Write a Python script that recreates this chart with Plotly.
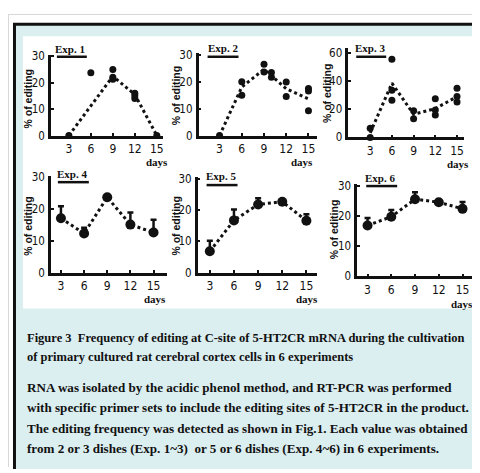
import plotly.graph_objects as go

# ---------------- data ----------------
days = [3, 6, 9, 12, 15]
day_ticks = [3, 6, 9, 12, 15]
day_tick_text = ["3", "6", "9", "12", "15"]

# Exp 1-3: individual dishes (scatter) + mean line
exp1_x = [3, 6, 9, 9, 9, 12, 12, 12, 15]
exp1_y = [0, 23.7, 25, 22, 21.3, 16, 15, 14, 0]
exp1_line_x = [3, 9, 12, 15]
exp1_line_y = [0, 22.4, 15.5, 0]

exp2_x = [3, 6, 6, 9, 9, 10, 10, 12, 12, 15, 15, 15]
exp2_y = [0, 20, 15, 26.5, 23.6, 23.4, 21.6, 19.9, 14.5, 17.5, 16.5, 9.2]
exp2_line_x = [3, 6, 9, 10, 12, 15]
exp2_line_y = [0, 18, 24.6, 22.2, 17.4, 13.6]

exp3_x = [3, 3, 6, 6, 6, 9, 9, 12, 12, 12, 15, 15, 15]
exp3_y = [6.5, 0, 55.5, 33.5, 26.5, 19, 13.2, 27.5, 19.5, 16, 35, 29, 25.2]
exp3_line_x = [3, 6, 9, 12, 15]
exp3_line_y = [3.3, 38.5, 16.5, 20.5, 29]

# Exp 4-6: mean + upper error (SD)
exp4_mean = [17.1, 12.3, 23.7, 15.1, 12.6]
exp4_err = [3.8, 1.8, 0.4, 3.8, 4.0]
exp5_mean = [6.8, 16.7, 21.8, 22.7, 16.6]
exp5_err = [3.4, 3.5, 2.0, 0.6, 2.1]
exp6_mean = [16.9, 19.8, 25.6, 24.6, 22.4]
exp6_err = [2.5, 2.2, 2.3, 0.4, 2.3]

exp_titles = ["Exp. 1", "Exp. 2", "Exp. 3", "Exp. 4", "Exp. 5", "Exp. 6"]
y_title = "% of editing"
x_unit = "days"
y_ticks_30 = [0, 10, 20, 30]
y_ticks_60 = [0, 20, 40, 60]

caption_title = [
    "Figure 3  Frequency of editing at C-site of 5-HT2CR mRNA during the cultivation",
    "of primary cultured rat cerebral cortex cells in 6 experiments",
]
caption_body = [
    "RNA was isolated by the acidic phenol method, and RT-PCR was performed",
    "with specific primer sets to include the editing sites of 5-HT2CR in the product.",
    "The editing frequency was detected as shown in Fig.1. Each value was obtained",
    "from 2 or 3 dishes (Exp. 1~3)  or 5 or 6 dishes (Exp. 4~6) in 6 experiments.",
]

# ---------------- layout helpers ----------------
# the page body has an 8px margin, so the figure occupies window px 8..480 / 8..473
OFF = 8
W, H = 480 - OFF, 473 - OFF
def PX(px):
    return (px - OFF) / W
def PY(py):
    return 1 - (py - OFF) / H

BLACK = "#111111"
CYAN = "#dbeef0"
NARROW = "Liberation Sans Narrow, Arial Narrow, DejaVu Sans Condensed, sans-serif"
SERIF = "Liberation Serif, Times New Roman, serif"
SANS = "Liberation Sans, Arial, sans-serif"

# pixel boxes (window coords): (left, right, top, bottom), x range, y range
panels = [
    dict(box=(51, 163, 50, 133), xr=[0.55, 15.8], yr=[0, 30.5], yt=y_ticks_30),
    dict(box=(199, 318, 48, 133), xr=[0.17, 16.2], yr=[0, 30.7], yt=y_ticks_30),
    dict(box=(349, 465, 43, 135), xr=[-0.03, 15.97], yr=[0, 63.5], yt=y_ticks_60),
    dict(box=(51, 167, 175, 274), xr=[1.7, 16.7], yr=[0, 30.3], yt=y_ticks_30),
    dict(box=(198, 318, 176, 274), xr=[1.48, 16.36], yr=[0, 30.5], yt=y_ticks_30),
    dict(box=(358, 473, 183, 278), xr=[1.7, 16.2], yr=[0, 30.6], yt=y_ticks_30),
]

fig = go.Figure()

line_style = dict(color=BLACK, width=3, dash="dot")

def add_dishes(i, xs, ys, lx, ly):
    ax = "" if i == 1 else str(i)
    fig.add_trace(go.Scatter(x=lx, y=ly, mode="lines", line=line_style,
                             xaxis="x" + ax, yaxis="y" + ax, cliponaxis=False,
                             showlegend=False, hoverinfo="skip"))
    fig.add_trace(go.Scatter(x=xs, y=ys, mode="markers",
                             marker=dict(color=BLACK, size=7),
                             xaxis="x" + ax, yaxis="y" + ax, cliponaxis=False,
                             showlegend=False))

def add_means(i, means, errs):
    ax = str(i)
    fig.add_trace(go.Scatter(x=days, y=means, mode="lines+markers", line=line_style,
                             marker=dict(color=BLACK, size=10),
                             error_y=dict(type="data", array=errs,
                                          arrayminus=[0] * len(errs),
                                          color=BLACK, thickness=2.5, width=3),
                             xaxis="x" + ax, yaxis="y" + ax, cliponaxis=False,
                             showlegend=False))

add_dishes(1, exp1_x, exp1_y, exp1_line_x, exp1_line_y)
add_dishes(2, exp2_x, exp2_y, exp2_line_x, exp2_line_y)
add_dishes(3, exp3_x, exp3_y, exp3_line_x, exp3_line_y)
add_means(4, exp4_mean, exp4_err)
add_means(5, exp5_mean, exp5_err)
add_means(6, exp6_mean, exp6_err)

layout = dict(
    width=W, height=H, autosize=False,
    margin=dict(l=0, r=0, t=0, b=0, pad=0),
    paper_bgcolor="white", plot_bgcolor="rgba(0,0,0,0)",
    showlegend=False,
)

for k, p in enumerate(panels):
    n = "" if k == 0 else str(k + 1)
    l, r, t, b = p["box"]
    layout["xaxis" + n] = dict(
        domain=[PX(l), PX(r)], range=p["xr"], anchor="y" + n,
        showline=True, linecolor=BLACK, linewidth=2.5, mirror=False,
        showgrid=False, zeroline=False,
        tickmode="array", tickvals=day_ticks, ticktext=day_tick_text,
        ticks="inside", ticklen=3, tickwidth=2, tickcolor=BLACK,
        tickfont=dict(family=NARROW, size=12, color=BLACK),
        ticklabelstandoff=0, fixedrange=True,
    )
    layout["yaxis" + n] = dict(
        domain=[PY(b), PY(t)], range=p["yr"], anchor="x" + n,
        showline=True, linecolor=BLACK, linewidth=2.5,
        showgrid=False, zeroline=False,
        tickmode="array", tickvals=p["yt"],
        ticks="inside", ticklen=3, tickwidth=2, tickcolor=BLACK,
        tickfont=dict(family=NARROW, size=11.5, color=BLACK),
        ticklabelstandoff=1, fixedrange=True,
    )

# background frame shapes
shapes = [
    dict(type="line", x0=PX(8.5), x1=PX(8.5), y0=PY(8), y1=PY(474),
         line=dict(color="#d8d8d8", width=1)),
    dict(type="line", x0=PX(8), x1=PX(481), y0=PY(8.5), y1=PY(8.5),
         line=dict(color="#d8d8d8", width=1)),
    dict(type="rect", x0=PX(13), x1=PX(482), y0=PY(476), y1=PY(17),
         fillcolor=BLACK, line=dict(width=0)),
    dict(type="rect", x0=PX(16), x1=PX(482), y0=PY(476), y1=PY(20),
         fillcolor=CYAN, line=dict(width=0)),
    dict(type="rect", x0=PX(23), x1=PX(478), y0=PY(311), y1=PY(31),
         fillcolor="white", line=dict(width=0)),
]
for s in shapes:
    s.update(xref="paper", yref="paper", layer="below")

annotations = []

# experiment titles with thick underline bars
title_pos = [  # text centre x, text y, bar x0, bar x1, bar y
    (70, 44, 57, 87, 52),
    (223, 43, 208, 239, 52),
    (371, 43, 357, 387, 52),
    (72, 173, 58, 89, 181),
    (221, 175, 207, 238, 184),
    (381, 177, 367, 398, 185),
]
for txt, (tx, ty, bx0, bx1, by) in zip(exp_titles, title_pos):
    annotations.append(dict(x=PX(tx), y=PY(ty), xref="paper", yref="paper",
                            text="<b>%s</b>" % txt, showarrow=False,
                            xanchor="center", yanchor="middle",
                            font=dict(family=SERIF, size=11, color=BLACK)))
    shapes.append(dict(type="line", xref="paper", yref="paper",
                       x0=PX(bx0), x1=PX(bx1), y0=PY(by), y1=PY(by),
                       line=dict(color=BLACK, width=2.5)))

# y-axis titles
ytitle_pos = [(28, 95), (176, 92), (327, 89), (28, 226), (176, 226), (335, 229)]
for (yx, yy) in ytitle_pos:
    annotations.append(dict(x=PX(yx), y=PY(yy), xref="paper", yref="paper",
                            text="<b>%s</b>" % y_title, showarrow=False, textangle=-90,
                            xanchor="center", yanchor="middle",
                            font=dict(family=SANS, size=10.5, color=BLACK)))

# "days" labels
days_pos = [(157, 160), (303, 160), (459, 162), (155, 301), (308, 301), (463, 306)]
for (dx, dy) in days_pos:
    annotations.append(dict(x=PX(dx), y=PY(dy), xref="paper", yref="paper",
                            text="<b>%s</b>" % x_unit, showarrow=False,
                            xanchor="center", yanchor="middle",
                            font=dict(family=SERIF, size=11, color=BLACK)))

# caption
cap_y = [341, 361]
for txt, cy in zip(caption_title, cap_y):
    annotations.append(dict(x=PX(25), y=PY(cy), xref="paper", yref="paper",
                            text="<b>%s</b>" % txt, showarrow=False,
                            xanchor="left", yanchor="middle",
                            font=dict(family=SERIF, size=12.5, color=BLACK)))
body_y = [392, 413, 434, 455]
for txt, cy in zip(caption_body, body_y):
    annotations.append(dict(x=PX(25), y=PY(cy), xref="paper", yref="paper",
                            text="<b>%s</b>" % txt, showarrow=False,
                            xanchor="left", yanchor="middle",
                            font=dict(family=SERIF, size=13.1, color=BLACK)))

layout["shapes"] = shapes
layout["annotations"] = annotations
fig.update_layout(**layout)

fig.write_html("out.html")
